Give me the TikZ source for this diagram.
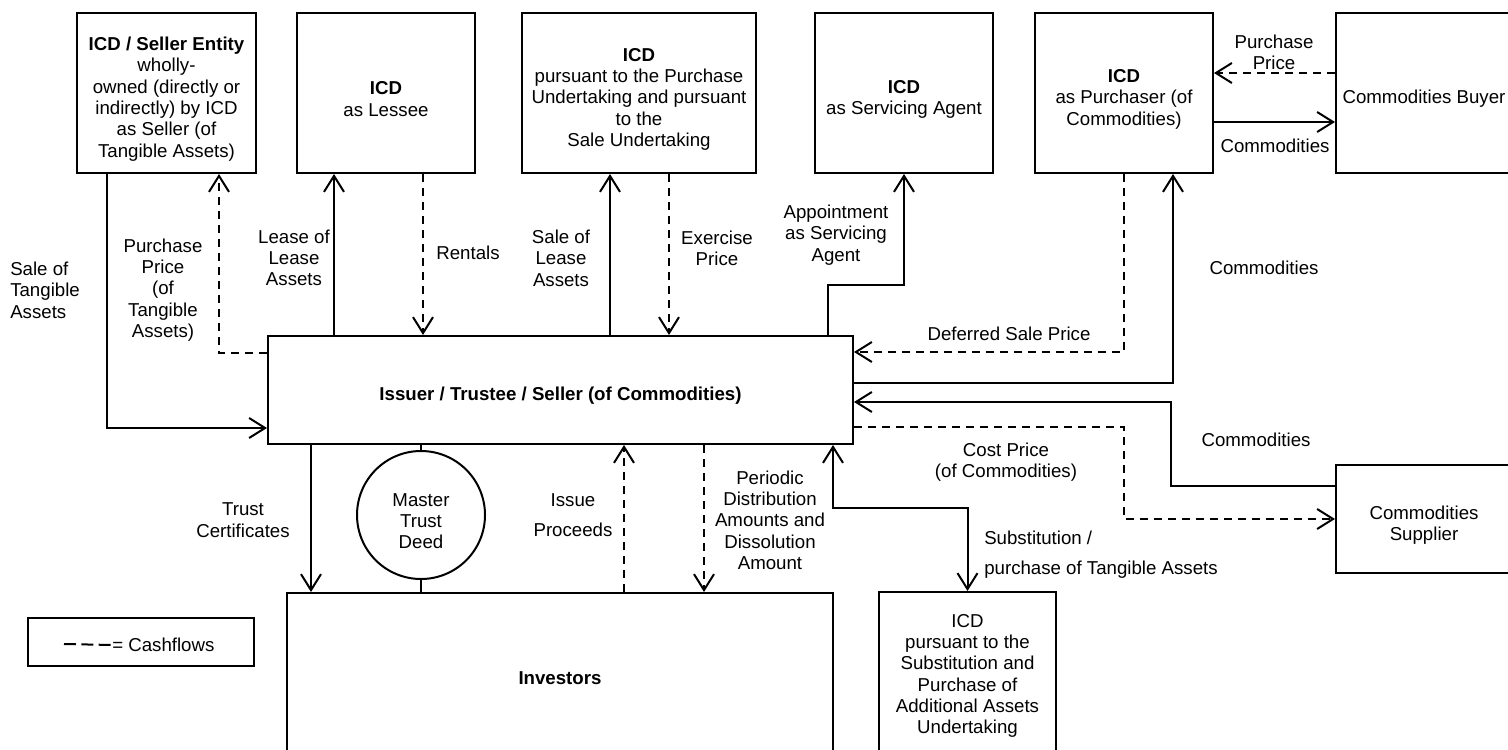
\documentclass[tikz,border=0pt]{standalone}
\usepackage{fontspec}
\setmainfont{Liberation Sans}
\usetikzlibrary{arrows.meta}

\newcommand{\topgap}{\rule{0pt}{19pt}}

\tikzset{
    party/.style={draw, line width=1.5pt, align=center, inner sep=2pt},
    lbl/.style={align=center, inner sep=0pt},
    flow/.style={line width=1.5pt, ->},
    cash/.style={flow, dash pattern=on 6pt off 4.5pt},
}

\begin{document}
\begin{tikzpicture}[x=0.75pt, y=-0.75pt, >={Straight Barb[length=12pt,width=15pt]}, font=\fontsize{14}{16}\selectfont]
\useasboundingbox (0,0) rectangle (1508,749);
    % Top row
    \node[party, minimum width=134.25pt, minimum height=120pt] (seller) at (166.5,93) {\topgap\textbf{ICD / Seller Entity}\\ wholly-\\ owned (directly or\\ indirectly) by ICD\\ as Seller (of\\ Tangible Assets)};
    \node[party, minimum width=133.5pt, minimum height=120pt] (lessee) at (386,93) {\topgap\textbf{ICD}\\ as Lessee};
    \node[party, minimum width=175.5pt, minimum height=120pt] (undertk) at (639,93) {\topgap\textbf{ICD}\\ pursuant to the Purchase\\ Undertaking and pursuant\\ to the\\ Sale Undertaking};
    \node[party, minimum width=133.5pt, minimum height=120pt] (agent) at (904,93) {\topgap\textbf{ICD}\\ as Servicing Agent};
    \node[party, minimum width=133.5pt, minimum height=120pt] (purch) at (1124,93) {\topgap\textbf{ICD}\\ as Purchaser (of\\ Commodities)};
    \node[party, minimum width=132pt, minimum height=120pt] (buyer) at (1424,93) {\topgap Commodities Buyer};

    % Middle
    \node[party, minimum width=438.75pt, minimum height=81pt] (issuer) at (560.5,390) {\topgap\textbf{Issuer / Trustee / Seller (of Commodities)}};
    \node[party, minimum width=132pt, minimum height=81pt] (supplier) at (1424,519) {\topgap Commodities\\ Supplier};

    % Bottom
    \node[party, circle, minimum size=96pt, inner sep=0pt] (deed) at (421,515) {\topgap Master\\ Trust\\ Deed};
    \node[party, minimum width=409.5pt, minimum height=127.5pt] (investors) at (560,678) {\textbf{Investors}};
    \node[party, minimum width=132.75pt, minimum height=126pt] (subst) at (967.5,676) {ICD\\ pursuant to the\\ Substitution and\\ Purchase of\\ Additional Assets\\ Undertaking};

    % Legend
    \node[party, minimum width=169.5pt, minimum height=36pt] (legend) at (141,642) {};
    \node[lbl, anchor=west] (legtxt) at (112,645) {= Cashflows};
    \draw[line width=1.5pt, dash pattern=on 9pt off 4pt] (64,644) -- (legtxt.west);

    % Bend points
    \coordinate (c1) at (107,428);
    \coordinate (c2) at (219,353);
    \coordinate (c3) at (334,0);
    \coordinate (c4) at (423,0);
    \coordinate (c5) at (610,0);
    \coordinate (c6) at (669,0);
    \coordinate (c7) at (828,285);
    \coordinate (c8) at (0,352);
    \coordinate (c9) at (1173,383);
    \coordinate (c10) at (1171,402);
    \coordinate (c11) at (1124,427);
    \coordinate (c12) at (0,73);
    \coordinate (c13) at (0,122);
    \coordinate (c14) at (311,0);
    \coordinate (c16) at (624,0);
    \coordinate (c17) at (704,0);
    \coordinate (c18) at (833,508);

    % Seller entity
    \draw[flow] (seller.south -| c1) |- (issuer.west |- c1);
    \draw[cash] (issuer.west |- c2) -| (seller.south -| c2);
    % Lessee
    \draw[flow] (issuer.north -| c3) -- (lessee.south -| c3);
    \draw[cash] (lessee.south -| c4) -- (issuer.north -| c4);
    % Undertakings
    \draw[flow] (issuer.north -| c5) -- (undertk.south -| c5);
    \draw[cash] (undertk.south -| c6) -- (issuer.north -| c6);
    % Servicing agent
    \draw[flow] (issuer.north -| c7) -- (c7) -| (agent.south);
    % Commodities
    \draw[cash] (purch.south) |- (issuer.east |- c8);
    \draw[flow] (issuer.east |- c9) -| (purch.south -| c9);
    \draw[flow] (supplier.west |- 0,486) -| (c10) -- (issuer.east |- c10);
    \draw[cash] (issuer.east |- c11) -| (supplier.west -| c11) -- (supplier.west);
    \draw[cash] (buyer.west |- c12) -- (purch.east |- c12);
    \draw[flow] (purch.east |- c13) -- (buyer.west |- c13);
    % Investors
    \draw[flow] (issuer.south -| c14) -- (investors.north -| c14);
    \draw[line width=1.5pt] (issuer.south -| deed) -- (deed.north);
    \draw[line width=1.5pt] (deed.south) -- (investors.north -| deed);
    \draw[cash] (investors.north -| c16) -- (issuer.south -| c16);
    \draw[cash] (issuer.south -| c17) -- (investors.north -| c17);
    % Substitution
    \draw[flow, <->] (issuer.south -| c18) -- (c18) -| (subst.north);

    % Labels
    \node[lbl, anchor=west, align=left] (l1) at (10,290) {Sale of\\ Tangible\\ Assets};
    \node[lbl] (l2) at (163,290) {Purchase\\ Price\\ (of\\ Tangible\\ Assets)};
    \node[lbl] (l3) at (294,258) {Lease of\\ Lease\\ Assets};
    \node[lbl] (l4) at (468,253) {Rentals};
    \node[lbl] (l5) at (561,258) {Sale of\\ Lease\\ Assets};
    \node[lbl] (l6) at (717,248) {Exercise\\ Price};
    \node[lbl] (l7) at (836,235) {Appointment\\ as Servicing\\ Agent};
    \node[lbl] (l8) at (1009,334) {Deferred Sale Price};
    \node[lbl] (l9) at (1264,268) {Commodities};
    \node[lbl] (l10) at (1274,52) {Purchase\\ Price};
    \node[lbl] (l11) at (1275,146) {Commodities};
    \node[lbl] (l12) at (1256,440) {Commodities};
    \node[lbl] (l13) at (1006,462) {Cost Price\\ (of Commodities)};
    \node[lbl, anchor=west, align=left] (l14) at (984,555) {Substitution /\\[6.5pt] purchase of Tangible Assets};
    \node[lbl] (l15) at (243,520) {Trust\\ Certificates};
    \node[lbl] (l16) at (573,515) {Issue\\[6.5pt] Proceeds};
    \node[lbl] (l17) at (770,520) {Periodic\\ Distribution\\ Amounts and\\ Dissolution\\ Amount};
\end{tikzpicture}
\end{document}
